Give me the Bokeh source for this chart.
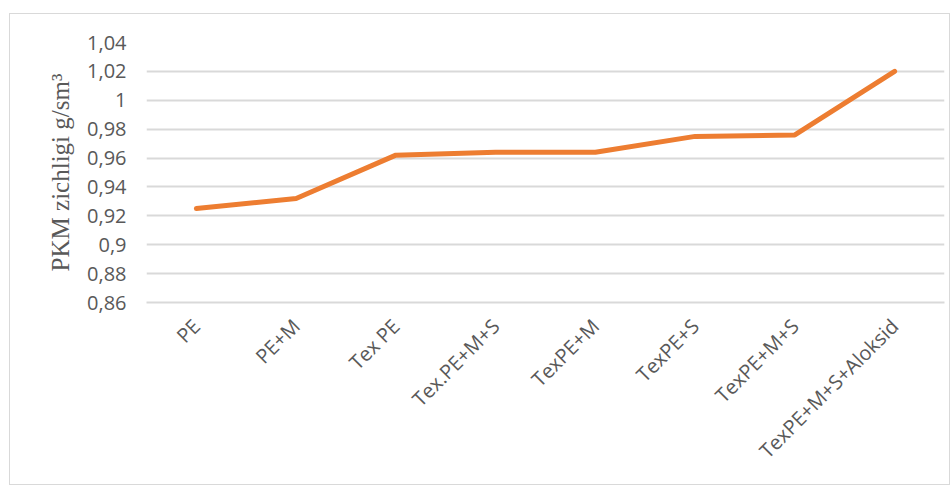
import math
from bokeh.plotting import figure
from bokeh.models import Range1d, FixedTicker, CustomJSTickFormatter, ColumnDataSource
from bokeh.embed import file_html
from bokeh.resources import INLINE

categories = ["PE", "PE+M", "Tex PE", "Tex.PE+M+S", "TexPE+M", "TexPE+S", "TexPE+M+S", "TexPE+M+S+Aloksid"]
density = [0.925, 0.932, 0.962, 0.964, 0.964, 0.975, 0.976, 1.020]
y_ticks = [0.86, 0.88, 0.90, 0.92, 0.94, 0.96, 0.98, 1.00, 1.02, 1.04]
y_label = "PKM zichligi g/sm³"

source = ColumnDataSource(data=dict(cat=categories, val=density))

p = figure(width=941, height=472, x_range=categories, y_range=Range1d(0.86, 1.04),
           output_backend="svg", toolbar_location=None,
           min_border_left=136, min_border_top=28, min_border_right=7, min_border_bottom=184)
p.margin = (13, 0, 0, 9)
p.styles = {"border": "1px solid #d9d9d9"}
p.outline_line_color = None
p.background_fill_color = "white"
p.border_fill_color = "white"

p.line(x="cat", y="val", source=source, line_color="#ED7D31", line_width=5,
       line_join="round", line_cap="round")

p.xgrid.grid_line_color = None
p.ygrid.grid_line_color = "#d9d9d9"
p.ygrid.grid_line_width = 2

p.yaxis.ticker = FixedTicker(ticks=y_ticks)
p.yaxis.formatter = CustomJSTickFormatter(code="""
let s = tick.toFixed(2);
s = s.replace(/0+$/, '').replace(/\\.$/, '');
return s.replace('.', ',');
""")
p.yaxis.axis_line_color = None
p.yaxis.major_tick_line_color = None
p.yaxis.minor_tick_line_color = None
p.yaxis.major_tick_out = 0
p.yaxis.major_label_standoff = 20
p.yaxis.major_label_text_font = "Open Sans"
p.yaxis.major_label_text_font_size = "20px"
p.yaxis.major_label_text_color = "#595959"
p.yaxis.axis_label = y_label
p.yaxis.axis_label_text_font = "Liberation Serif"
p.yaxis.axis_label_text_font_style = "normal"
p.yaxis.axis_label_text_font_size = "25px"
p.yaxis.axis_label_text_color = "#595959"
p.yaxis.axis_label_standoff = 10

p.xaxis.axis_line_color = "#d9d9d9"
p.xaxis.axis_line_width = 2
p.xaxis.major_tick_line_color = None
p.xaxis.minor_tick_line_color = None
p.xaxis.major_tick_out = 0
p.xaxis.major_label_orientation = math.pi / 4
p.xaxis.major_label_standoff = 20
p.xaxis.major_label_text_font = "Open Sans"
p.xaxis.major_label_text_font_size = "20px"
p.xaxis.major_label_text_color = "#595959"

open("out.html", "w").write(file_html(p, INLINE))
